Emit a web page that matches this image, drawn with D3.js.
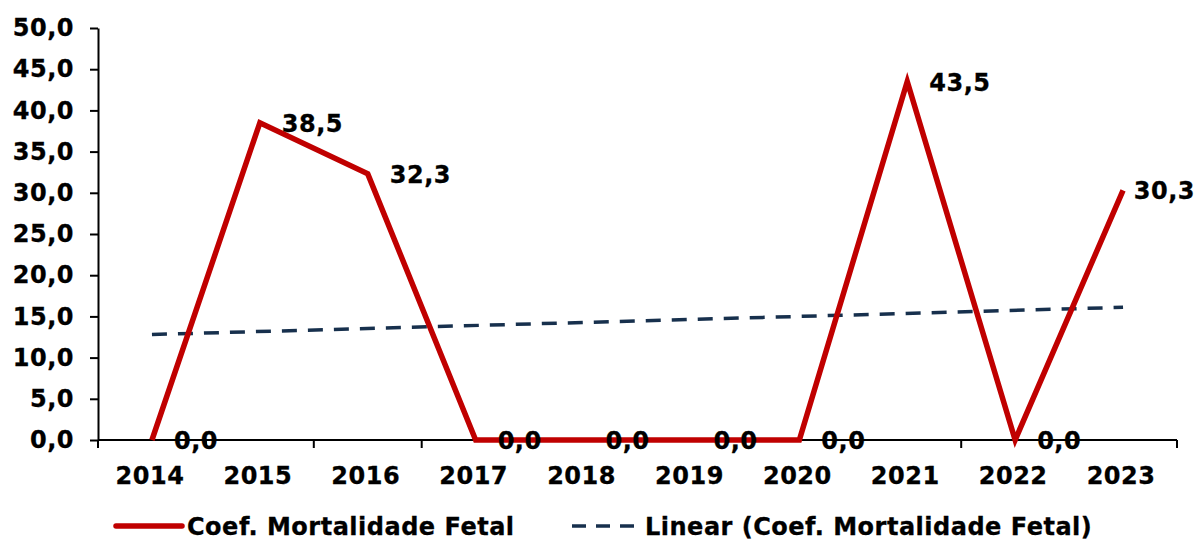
<!DOCTYPE html>
<html>
<head>
<meta charset="utf-8">
<script src="https://cdn.jsdelivr.net/npm/d3@7"></script>
<style>
  body { margin: 0; background: #fff; }
  svg { display: block; font-family: Verdana, "DejaVu Sans", sans-serif; font-weight: bold; }
  svg text { letter-spacing: 0.5px; stroke: #000; stroke-width: 0.3px; }
</style>
</head>
<body>
<div id="chart"></div>
<script>
const years = ['2014', '2015', '2016', '2017', '2018', '2019', '2020', '2021', '2022', '2023'];
const values = [0, 38.5, 32.3, 0, 0, 0, 0, 43.5, 0, 30.3];
// linear trend line, read at both ends
const trendYears = ['2014', '2023'];
const trendValues = [12.8, 16.1];
const yTicks = [0, 5, 10, 15, 20, 25, 30, 35, 40, 45, 50];

const W = 1197, H = 540;
const margin = { top: 28, right: 20, bottom: 100, left: 98 };
const width = W - margin.left - margin.right;
const height = H - margin.top - margin.bottom;

const fmt = d => d.toFixed(1).replace('.', ',');

const svg = d3.select('#chart').append('svg')
  .attr('width', W)
  .attr('height', H);

const g = svg.append('g')
  .attr('transform', `translate(${margin.left}, ${margin.top})`);

const x = d3.scaleBand().domain(years).range([0, width]);
const y = d3.scaleLinear().domain([0, 50]).range([height, 0]);
const cx = d => x(d) + x.bandwidth() / 2;

// y axis
const yAxis = g.append('g')
  .call(d3.axisLeft(y).tickValues(yTicks).tickFormat(fmt).tickSize(8).tickSizeOuter(0));
yAxis.select('.domain').attr('stroke', '#000').attr('stroke-width', 2);
yAxis.selectAll('.tick line').attr('stroke', '#000').attr('stroke-width', 2);
yAxis.selectAll('.tick text')
  .attr('x', -24)
  .attr('fill', '#000')
  .style('font-size', '24px')
  .style('font-family', 'Verdana, "DejaVu Sans", sans-serif');

// x axis with ticks at category boundaries
const xAxisG = g.append('g').attr('transform', `translate(0, ${height})`);
xAxisG.append('line')
  .attr('x1', 0).attr('x2', width)
  .attr('stroke', '#000').attr('stroke-width', 2);
d3.range(years.length + 1).forEach(i => {
  const xp = i === years.length ? width : x(years[i]);
  xAxisG.append('line')
    .attr('x1', xp).attr('x2', xp)
    .attr('y1', 0).attr('y2', 8)
    .attr('stroke', '#000').attr('stroke-width', 2);
});
xAxisG.selectAll('text.year')
  .data(years)
  .join('text')
  .attr('class', 'year')
  .attr('x', d => cx(d) - 2)
  .attr('y', 44)
  .attr('text-anchor', 'middle')
  .style('font-size', '24px')
  .text(d => d);

// trend line
const trendLine = d3.line()
  .x((d, i) => cx(trendYears[i]))
  .y(d => y(d));
g.append('path')
  .attr('d', trendLine(trendValues))
  .attr('fill', 'none')
  .attr('stroke', '#17304d')
  .attr('stroke-width', 3.5)
  .attr('stroke-dasharray', '15 11');

// main series
const line = d3.line()
  .x((d, i) => cx(years[i]))
  .y(d => y(d));
g.append('path')
  .attr('d', line(values))
  .attr('fill', 'none')
  .attr('stroke', '#c00000')
  .attr('stroke-width', 5.5)
  .attr('stroke-linejoin', 'miter');

// data labels
const labels = g.selectAll('text.lbl')
  .data(values)
  .join('text')
  .attr('class', 'lbl')
  .attr('x', (d, i) => cx(years[i]) + 22)
  .attr('y', d => y(d) + 9)
  .style('font-size', '24px')
  .text(fmt);
labels.each(function () {
  const bb = this.getBBox();
  const maxX = W - margin.left - 2;
  if (bb.x + bb.width > maxX) d3.select(this).attr('x', maxX - bb.width);
});

// legend
const legend = svg.append('g').attr('transform', `translate(0, ${H - 14})`);
legend.append('line')
  .attr('x1', 116).attr('x2', 182)
  .attr('stroke', '#c00000').attr('stroke-width', 5.5)
  .attr('stroke-linecap', 'round');
legend.append('text')
  .attr('x', 187).attr('y', 9)
  .style('font-size', '24px')
  .text('Coef. Mortalidade Fetal');
legend.append('line')
  .attr('x1', 572).attr('x2', 640)
  .attr('stroke', '#17304d').attr('stroke-width', 3.5)
  .attr('stroke-dasharray', '14 10');
legend.append('text')
  .attr('x', 645).attr('y', 9)
  .style('font-size', '24px')
  .text('Linear (Coef. Mortalidade Fetal)');
</script>
</body>
</html>
